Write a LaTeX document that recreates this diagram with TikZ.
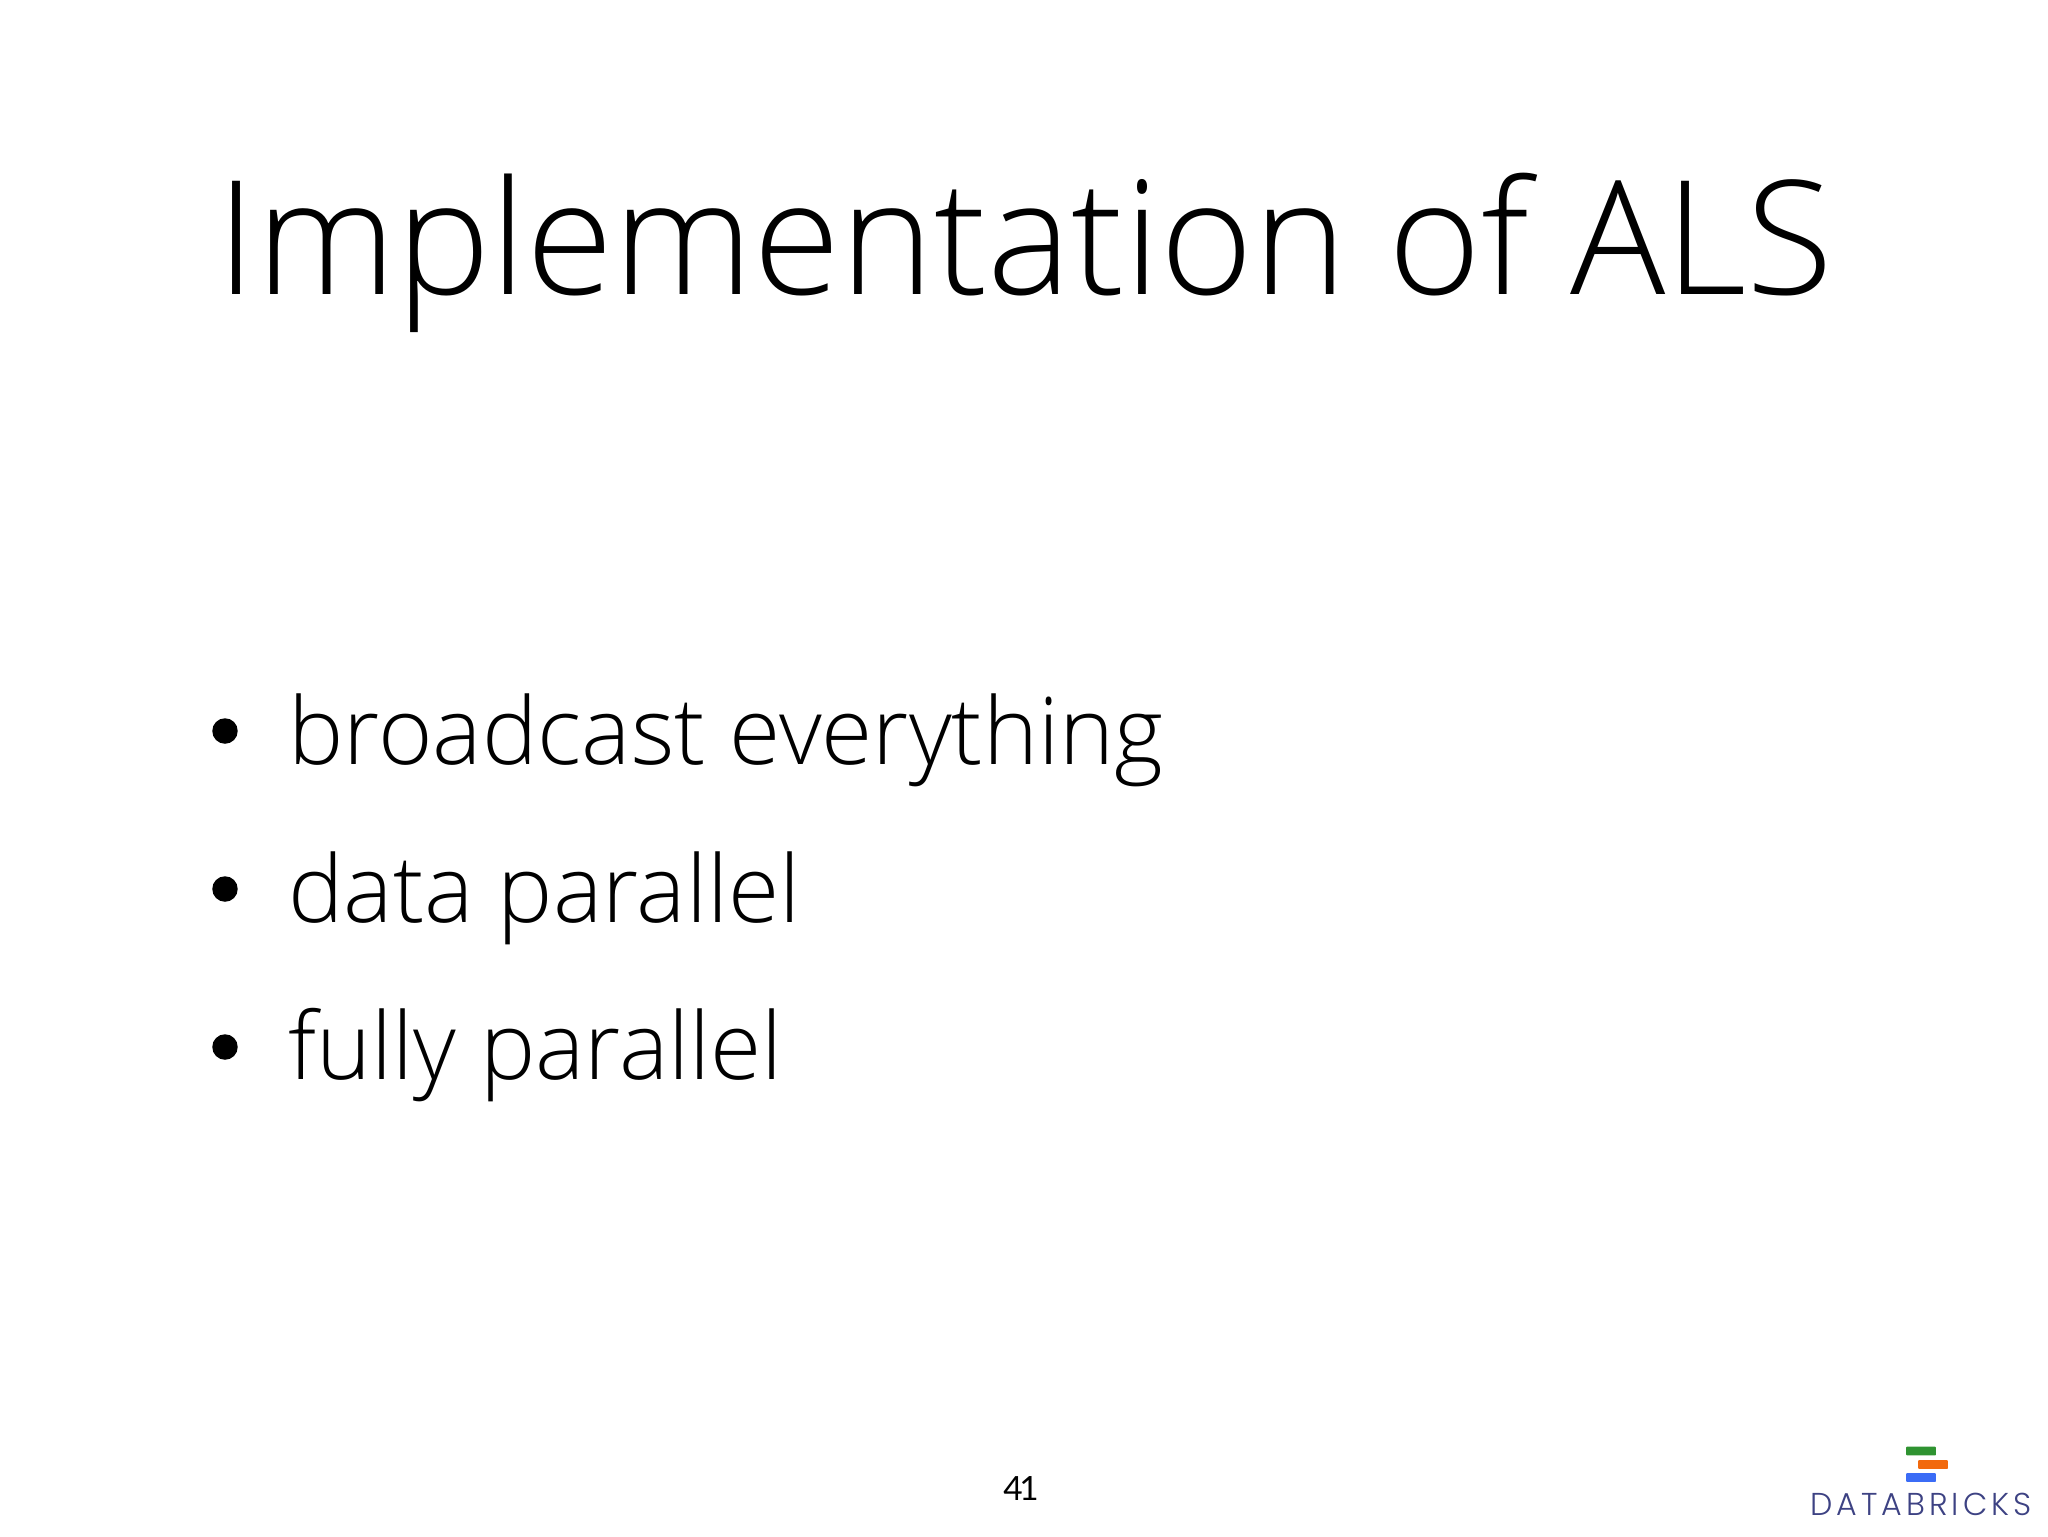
\documentclass[tikz,border=0pt]{standalone}
\usepackage{fontspec}
\setmainfont{Open Sans Light}[Ligatures=NoCommon]
\newfontfamily\pagefont{Lato}
\newfontfamily\logofont{Poppins Light}[LetterSpace=12.8]
\def\pagew{2048}
\def\pageh{1536}
\tikzset{
    slidetitle/.style={anchor=base west,inner sep=0pt,font=\fontsize{90.3}{100}\selectfont},
    itemtext/.style={anchor=base west,inner sep=0pt,font=\fontsize{53}{60}\selectfont},
    itemdot/.style={circle,fill=black,inner sep=0pt,minimum size=14.5pt},
    logobar/.style={rounded corners=0.5pt,minimum width=17pt,minimum height=5pt,inner sep=0pt}
}
\definecolor{logogreen}{HTML}{2F9331}
\definecolor{logoorange}{HTML}{F2690D}
\definecolor{logoblue}{HTML}{3B6CF6}
\definecolor{logotext}{HTML}{3D4283}
\begin{document}
\begin{tikzpicture}[x=0.02cm,y=-0.02cm]
        \useasboundingbox (0,0) rectangle (\pagew,\pageh);
        % title
        \node[slidetitle] (title) at (216,294) {Implementation of ALS};
        % bullet list
        \node[itemdot] (dota) at (225,731) {};
        \node[itemtext] (itema) at (288,764) {broadcast everything};
        \node[itemdot] (dotb) at (225,889) {};
        \node[itemtext] (itemb) at (288,922) {data parallel};
        \node[itemdot] (dotc) at (225,1047) {};
        \node[itemtext] (itemc) at (288,1079) {fully parallel};
        % page number
        \node[anchor=base,inner sep=0pt,font=\pagefont\fontsize{19}{24}\selectfont] (page) at (1021,1500) {4\kern-2pt 1};
        % logo
        \node[logobar,fill=logogreen] (bara) at (1921,1451) {};
        \node[logobar,fill=logoorange] (barb) at (1933,1464.5) {};
        \node[logobar,fill=logoblue] (barc) at (1921,1477.5) {};
        \node[anchor=base,inner sep=0pt,text=logotext,font=\logofont\fontsize{18}{20}\selectfont] (logo) at (1921,1515) {DATABRICKS};
    \end{tikzpicture}
\end{document}
